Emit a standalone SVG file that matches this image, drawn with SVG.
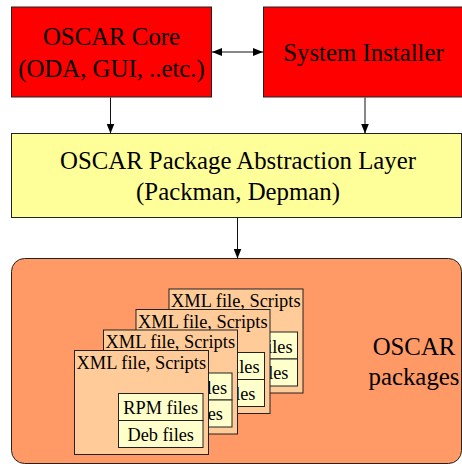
<svg xmlns="http://www.w3.org/2000/svg" width="462" height="464" viewBox="0 0 462 464">
<style>
.big{font-size:24.8px;text-anchor:middle}
.card{font-size:18.4px}
.inn{font-size:18.3px;text-anchor:middle}
.red{fill:#ff0000;stroke:#222;stroke-width:1}
.yel{fill:#ffff99;stroke:#222;stroke-width:1}
.pkg{fill:#ff9966;stroke:#222;stroke-width:1}
.cd{fill:#ffcc99;stroke:#222;stroke-width:1}
.ib{fill:#ffffcc;stroke:#222;stroke-width:1}
.conn{stroke:#111;stroke-width:1;fill:none}
</style>
<defs>
<marker id="ah" viewBox="0 0 10 8" refX="10" refY="4" markerWidth="10" markerHeight="8" markerUnits="userSpaceOnUse" orient="auto-start-reverse">
<path d="M0,0 L10,4 L0,8 z" fill="#000"/>
</marker>
<g id="pkgcard" font-family="Liberation Serif, serif">
<rect class="cd" x="0" y="0" width="134" height="104"/>
<text class="card" x="2" y="18">XML file, Scripts</text>
<rect class="ib" x="44" y="43" width="84.5" height="27"/>
<rect class="ib" x="44" y="70" width="84.5" height="27"/>
<text class="inn" x="86.2" y="63.5">RPM files</text>
<text class="inn" x="86.2" y="90">Deb files</text>
</g>
</defs>
<g font-family="Liberation Serif, serif">
<g id="core">
<rect class="red" x="11.5" y="7" width="200" height="90"/>
<text class="big" x="111.5" y="45">OSCAR Core</text>
<text class="big" x="111.5" y="77">(ODA, GUI, ..etc.)</text>
</g>
<g id="installer">
<rect class="red" x="263.5" y="7" width="200" height="90"/>
<text class="big" x="363.5" y="61">System Installer</text>
</g>
<g id="pal">
<rect class="yel" x="11.5" y="133.5" width="450" height="84"/>
<text class="big" x="238" y="169">OSCAR Package Abstraction Layer</text>
<text class="big" x="238" y="200">(Packman, Depman)</text>
</g>
<g id="packages">
<rect class="pkg" x="11.5" y="258.5" width="450" height="205" rx="13" ry="13"/>
<text class="big" x="414" y="355">OSCAR</text>
<text class="big" x="414" y="385">packages</text>
<use href="#pkgcard" x="169" y="289"/>
<use href="#pkgcard" x="136" y="309.5"/>
<use href="#pkgcard" x="103.5" y="330"/>
<use href="#pkgcard" x="74.5" y="350.5"/>
</g>
</g>
<g id="connectors">
<line class="conn" x1="212" y1="52" x2="263" y2="52" marker-start="url(#ah)" marker-end="url(#ah)"/>
<line class="conn" x1="110.5" y1="97.5" x2="110.5" y2="133.5" marker-end="url(#ah)"/>
<line class="conn" x1="365" y1="97.5" x2="365" y2="133.5" marker-end="url(#ah)"/>
<line class="conn" x1="237.5" y1="217.5" x2="237.5" y2="258.5" marker-end="url(#ah)"/>
</g>
</svg>
